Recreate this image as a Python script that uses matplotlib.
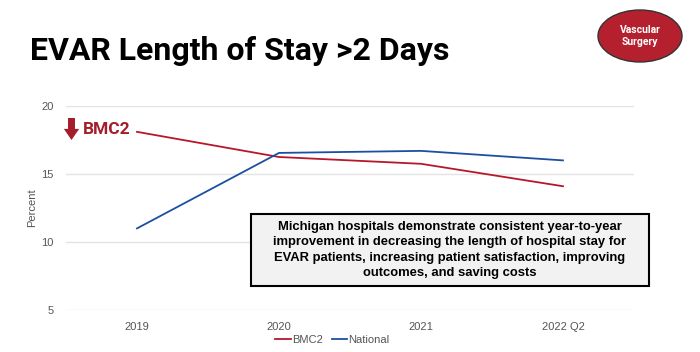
import matplotlib
matplotlib.use("Agg")
from matplotlib import pyplot as plt
from matplotlib.patches import Ellipse, Rectangle

periods = ["2019", "2020", "2021", "2022 Q2"]
bmc2 = [18.1, 16.25, 15.75, 14.1]
national = [11.0, 16.55, 16.7, 16.0]
yticks = [5, 10, 15, 20]

title = "EVAR Length of Stay >2 Days"
note = ("Michigan hospitals demonstrate consistent year-to-year\n"
        "improvement in decreasing the length of hospital stay for\n"
        "EVAR patients, increasing patient satisfaction, improving\n"
        "outcomes, and saving costs")

red = "#B8172B"
blue = "#1C4FA1"
gray = "#555555"
narrow = ["Roboto", "Liberation Sans", "DejaVu Sans"]

plt.rcParams['font.family'] = ["Liberation Sans", "DejaVu Sans"]

fig = plt.figure(figsize=(7, 3.52), dpi=100, facecolor='w')
ax = fig.add_axes([66 / 700, 1 - 310 / 352, 568 / 700, 204 / 352])

x = list(range(len(periods)))
ax.plot(x, bmc2, color=red, lw=1.3, label="BMC2")
ax.plot(x, national, color=blue, lw=1.3, label="National")

ax.set_xlim(-0.5, len(periods) - 0.5)
ax.set_ylim(5, 20)
ax.set_yticks(yticks)
ax.set_xticks(x)
ax.set_xticklabels(periods)
ax.grid(axis='y', color='#E3E3E3', lw=1)
ax.set_axisbelow(True)
for s in ax.spines.values():
    s.set_visible(False)
ax.tick_params(length=0, colors=gray, labelsize=8, pad=9)
ax.set_ylabel("Percent", color=gray, fontsize=8)
ax.yaxis.set_label_coords(-0.051, 0.5)

fig.legend(loc='center', bbox_to_anchor=(0.475, 1 - 340 / 352), ncol=2,
           frameon=False, fontsize=8, handlelength=1.4, handletextpad=0.1,
           columnspacing=0.8, labelcolor=gray)

# title
fig.text(30 / 700, 1 - 51 / 352, title, fontsize=23, fontweight='bold',
         family=narrow, va='center', ha='left', color='black')

# badge
fig.patches.append(Ellipse((640 / 700, 1 - 36 / 352), 84 / 700, 52 / 352,
                           transform=fig.transFigure, facecolor="#B5202E",
                           edgecolor="#333333", lw=1))
fig.text(640 / 700, 1 - 36 / 352, "Vascular\nSurgery", color='white',
         fontsize=7.5, fontweight='bold', family=narrow, ha='center', va='center',
         linespacing=1.3)

# BMC2 marker
ax.annotate("", xy=(71.5, 352 - 140), xytext=(71.5, 352 - 118),
            xycoords='figure pixels', textcoords='figure pixels',
            arrowprops=dict(arrowstyle="simple,head_width=1.1,head_length=0.8,tail_width=0.5",
                            color="#A51C2B", lw=0, shrinkA=0, shrinkB=0))
fig.text(83 / 700, 1 - 129 / 352, "BMC2", color="#A51C2B", fontsize=12.5,
         fontweight='bold', family=narrow, ha='left', va='center')

# note box
fig.patches.append(Rectangle((251 / 700, 1 - 286 / 352), 398 / 700, 72 / 352,
                             transform=fig.transFigure, facecolor="#F2F2F2",
                             edgecolor="black", lw=1.5))
fig.text(450 / 700, 1 - 250 / 352, note, fontsize=9.4, fontweight='bold',
         ha='center', va='center', linespacing=1.38, color='black')

fig.savefig("out.png", dpi=100)
